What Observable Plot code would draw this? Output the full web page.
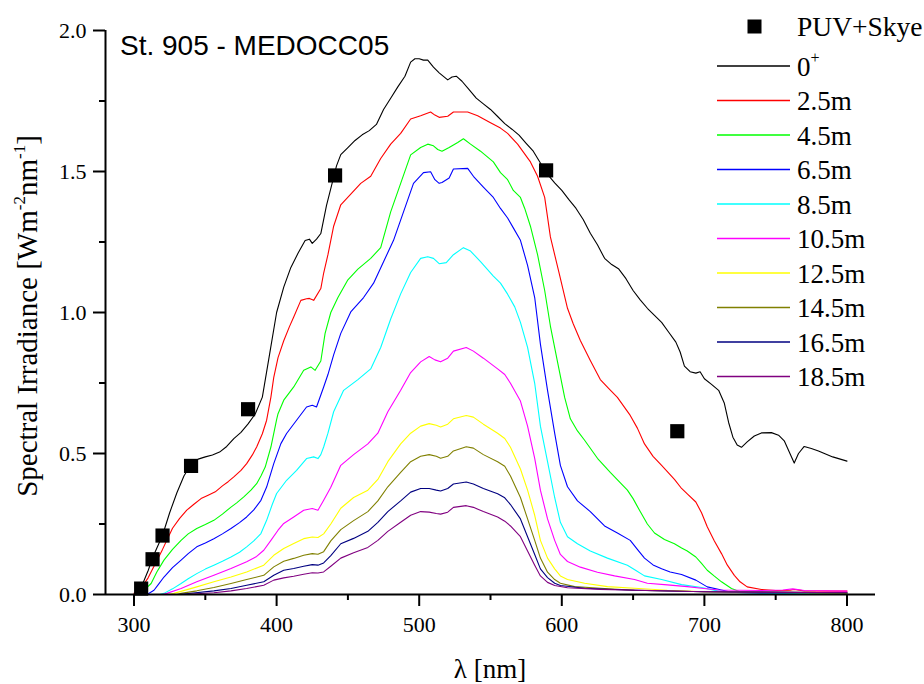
<!DOCTYPE html>
<html><head><meta charset="utf-8">
<script src="https://cdn.jsdelivr.net/npm/d3@7"></script>
<script src="https://cdn.jsdelivr.net/npm/@observablehq/plot@0.6"></script>
<style>
body{margin:0;background:#fff;}
#chart{position:relative;width:924px;height:684px;}
</style>
</head><body><div id="chart"></div>
<script>
// ---------- data ----------
const depths = ["0+","2.5m","4.5m","6.5m","8.5m","10.5m","12.5m","14.5m","16.5m","18.5m"];
const colors = ["#000000","#ff0000","#00ff00","#0000ff","#00ffff","#ff00ff","#ffff00","#808000","#000080","#800080"];

const s_0 = [[300,0.0],[301,0.01],[305,0.025],[310,0.086],[313,0.13],[320,0.21],[325,0.29],[330,0.36],[335,0.42],[340,0.462],[345,0.48],[350,0.488],[355,0.495],[360,0.505],[365,0.525],[370,0.553],[375,0.575],[380,0.605],[385,0.64],[390,0.70],[395,0.85],[400,1.0],[405,1.09],[410,1.16],[415,1.21],[420,1.255],[423,1.26],[425,1.245],[428,1.26],[431,1.28],[435,1.38],[439,1.46],[442,1.52],[445,1.56],[450,1.585],[455,1.61],[460,1.63],[465,1.645],[470,1.667],[475,1.72],[480,1.76],[485,1.80],[490,1.838],[494,1.888],[497,1.90],[500,1.90],[503,1.895],[506,1.895],[510,1.87],[514,1.85],[520,1.825],[523,1.835],[526,1.838],[530,1.82],[535,1.79],[540,1.76],[545,1.74],[550,1.72],[555,1.695],[560,1.67],[565,1.65],[570,1.629],[575,1.60],[580,1.572],[585,1.53],[590,1.49],[595,1.46],[600,1.433],[605,1.40],[610,1.369],[615,1.33],[620,1.281],[625,1.24],[630,1.192],[635,1.17],[640,1.154],[645,1.12],[650,1.078],[655,1.045],[660,1.015],[665,0.99],[670,0.965],[675,0.93],[680,0.895],[683,0.86],[686,0.81],[690,0.79],[694,0.785],[697,0.79],[700,0.765],[705,0.745],[710,0.724],[714,0.678],[717,0.61],[720,0.558],[723,0.53],[726,0.522],[730,0.541],[735,0.562],[740,0.573],[747,0.574],[752,0.565],[756,0.545],[760,0.50],[763,0.466],[766,0.50],[770,0.525],[775,0.518],[780,0.509],[790,0.488],[800,0.473]];
const s_25 = [[300,0.005],[303,0.015],[306,0.03],[310,0.06],[315,0.11],[320,0.16],[323,0.192],[327,0.235],[332,0.27],[337,0.299],[342,0.32],[347,0.34],[352,0.352],[357,0.364],[362,0.385],[366,0.40],[370,0.417],[375,0.44],[379,0.464],[383,0.495],[386,0.523],[390,0.57],[393,0.618],[396,0.70],[398,0.77],[401,0.84],[405,0.90],[409,0.95],[412,0.984],[417,1.043],[421,1.049],[423,1.05],[426,1.043],[431,1.085],[433,1.14],[436,1.205],[440,1.306],[445,1.382],[452,1.42],[459,1.458],[466,1.483],[473,1.546],[480,1.597],[487,1.635],[494,1.686],[501,1.698],[508,1.711],[511,1.70],[514,1.692],[520,1.696],[524,1.711],[534,1.711],[541,1.698],[550,1.673],[557,1.654],[562,1.635],[569,1.597],[578,1.534],[583,1.483],[588,1.408],[592,1.268],[598,1.142],[604,1.015],[608,0.96],[613,0.901],[620,0.83],[627,0.762],[633,0.73],[639,0.699],[648,0.635],[653,0.59],[658,0.534],[664,0.49],[670,0.458],[679,0.408],[684,0.376],[688,0.357],[694,0.328],[698,0.29],[702,0.24],[707,0.19],[712,0.145],[716,0.105],[721,0.068],[725,0.045],[730,0.027],[740,0.018],[750,0.014],[760,0.015],[763,0.018],[770,0.013],[800,0.012]];
const s_45 = [[303,0.005],[307,0.015],[312,0.039],[316,0.08],[321,0.122],[327,0.16],[333,0.192],[338,0.215],[344,0.234],[350,0.248],[356,0.263],[362,0.285],[368,0.31],[372,0.325],[377,0.346],[382,0.37],[386,0.393],[389,0.42],[392,0.452],[396,0.523],[400,0.62],[401,0.641],[405,0.689],[412,0.736],[419,0.795],[424,0.807],[427,0.795],[431,0.828],[434,0.926],[438,1.0],[443,1.053],[450,1.116],[457,1.154],[466,1.192],[473,1.23],[480,1.357],[487,1.458],[494,1.559],[501,1.585],[506,1.597],[510,1.591],[513,1.578],[516,1.572],[521,1.585],[527,1.603],[531,1.616],[536,1.597],[543,1.572],[552,1.534],[557,1.496],[562,1.471],[566,1.433],[571,1.408],[574,1.369],[578,1.306],[583,1.205],[588,1.078],[592,0.952],[597,0.825],[602,0.699],[606,0.623],[611,0.58],[616,0.547],[625,0.483],[634,0.433],[646,0.37],[650,0.34],[655,0.294],[660,0.25],[665,0.218],[672,0.195],[679,0.18],[684,0.165],[688,0.154],[694,0.133],[698,0.11],[702,0.086],[707,0.065],[712,0.045],[719,0.021],[725,0.01],[740,0.006],[800,0.005]];
const s_65 = [[310,0.003],[314,0.015],[317,0.035],[321,0.062],[327,0.095],[333,0.122],[338,0.145],[344,0.169],[350,0.183],[356,0.198],[362,0.215],[368,0.234],[374,0.255],[379,0.275],[384,0.30],[389,0.334],[393,0.381],[398,0.464],[403,0.535],[407,0.571],[414,0.618],[421,0.665],[425,0.671],[428,0.665],[433,0.736],[436,0.78],[440,0.85],[445,0.926],[452,1.002],[461,1.053],[468,1.104],[475,1.18],[482,1.256],[489,1.357],[496,1.458],[503,1.496],[508,1.499],[511,1.471],[514,1.458],[516,1.461],[521,1.477],[524,1.509],[534,1.511],[538,1.483],[545,1.445],[552,1.408],[557,1.369],[562,1.335],[566,1.30],[571,1.256],[576,1.167],[581,1.053],[585,0.888],[590,0.724],[595,0.572],[599,0.458],[604,0.382],[611,0.332],[620,0.294],[630,0.243],[639,0.218],[648,0.192],[653,0.16],[658,0.129],[664,0.105],[670,0.091],[676,0.08],[684,0.071],[694,0.051],[702,0.027],[712,0.016],[719,0.008],[740,0.005],[800,0.004]];
const s_85 = [[318,0.0],[321,0.004],[327,0.02],[333,0.039],[338,0.056],[344,0.074],[350,0.09],[356,0.104],[362,0.118],[368,0.133],[374,0.15],[379,0.169],[384,0.19],[389,0.216],[393,0.263],[397,0.32],[400,0.358],[407,0.405],[414,0.44],[421,0.482],[426,0.488],[429,0.482],[431,0.496],[433,0.523],[436,0.572],[440,0.648],[447,0.724],[457,0.762],[466,0.80],[473,0.876],[480,0.977],[487,1.066],[494,1.142],[501,1.192],[506,1.198],[510,1.192],[514,1.173],[519,1.177],[524,1.205],[531,1.23],[536,1.218],[543,1.18],[552,1.129],[557,1.104],[562,1.065],[567,1.02],[571,0.965],[576,0.876],[581,0.749],[585,0.597],[590,0.471],[595,0.344],[599,0.256],[604,0.205],[611,0.18],[620,0.154],[632,0.129],[646,0.104],[652,0.085],[658,0.066],[670,0.053],[684,0.035],[698,0.025],[710,0.012],[725,0.006],[800,0.004]];
const s_105 = [[320,0.0],[323,0.004],[333,0.021],[344,0.045],[356,0.068],[368,0.092],[379,0.116],[386,0.135],[391,0.157],[396,0.192],[401,0.228],[405,0.252],[412,0.275],[419,0.299],[425,0.305],[429,0.299],[433,0.334],[438,0.38],[445,0.458],[454,0.496],[464,0.534],[471,0.572],[478,0.648],[487,0.724],[494,0.787],[501,0.825],[507,0.844],[511,0.832],[515,0.825],[520,0.838],[524,0.863],[533,0.876],[538,0.863],[545,0.838],[555,0.80],[560,0.78],[564,0.749],[571,0.686],[576,0.597],[581,0.483],[585,0.37],[590,0.268],[595,0.192],[599,0.142],[604,0.117],[613,0.097],[625,0.079],[637,0.066],[651,0.053],[660,0.04],[674,0.034],[688,0.028],[698,0.022],[710,0.016],[740,0.014],[755,0.016],[762,0.02],[770,0.014],[800,0.012]];
const s_125 = [[324,0.0],[328,0.004],[344,0.027],[356,0.045],[368,0.062],[379,0.08],[391,0.104],[398,0.139],[405,0.163],[412,0.181],[419,0.198],[425,0.204],[429,0.202],[433,0.215],[438,0.25],[445,0.306],[454,0.344],[464,0.37],[471,0.408],[478,0.471],[487,0.534],[494,0.572],[501,0.597],[507,0.606],[512,0.60],[515,0.594],[520,0.604],[524,0.623],[533,0.635],[538,0.629],[545,0.604],[555,0.572],[560,0.553],[564,0.522],[571,0.445],[576,0.37],[581,0.281],[585,0.192],[590,0.129],[595,0.091],[599,0.066],[604,0.053],[616,0.04],[632,0.028],[651,0.022],[674,0.015],[700,0.01],[800,0.005]];
const s_145 = [[330,0.0],[333,0.004],[344,0.013],[356,0.025],[368,0.039],[379,0.053],[391,0.068],[398,0.098],[405,0.118],[412,0.128],[419,0.139],[425,0.145],[429,0.143],[433,0.152],[438,0.19],[445,0.23],[454,0.262],[464,0.294],[471,0.332],[478,0.382],[487,0.433],[494,0.471],[501,0.49],[507,0.496],[512,0.49],[515,0.483],[520,0.49],[524,0.509],[533,0.524],[538,0.519],[545,0.496],[555,0.471],[560,0.455],[564,0.42],[571,0.344],[576,0.268],[581,0.192],[585,0.129],[590,0.079],[595,0.053],[599,0.04],[609,0.028],[627,0.022],[651,0.015],[700,0.01],[800,0.006]];
const s_165 = [[332,0.0],[335,0.002],[356,0.013],[368,0.021],[379,0.033],[391,0.045],[398,0.068],[405,0.086],[412,0.092],[419,0.10],[425,0.106],[429,0.104],[433,0.112],[438,0.138],[445,0.18],[454,0.199],[464,0.224],[471,0.256],[478,0.294],[487,0.332],[494,0.363],[501,0.376],[507,0.376],[512,0.37],[515,0.367],[520,0.376],[524,0.392],[533,0.399],[538,0.392],[545,0.376],[555,0.357],[560,0.343],[564,0.319],[571,0.268],[576,0.205],[581,0.142],[585,0.091],[590,0.06],[595,0.04],[599,0.032],[616,0.022],[650,0.015],[700,0.01],[800,0.006]];
const s_185 = [[335,0.0],[338,0.001],[356,0.006],[368,0.013],[379,0.021],[391,0.033],[398,0.051],[405,0.059],[412,0.065],[419,0.072],[425,0.077],[429,0.076],[433,0.08],[438,0.10],[445,0.129],[454,0.148],[464,0.167],[471,0.192],[478,0.224],[487,0.256],[494,0.281],[501,0.294],[507,0.292],[512,0.287],[515,0.285],[520,0.292],[524,0.309],[533,0.315],[538,0.309],[545,0.294],[555,0.275],[560,0.26],[564,0.243],[571,0.205],[576,0.154],[581,0.104],[585,0.066],[590,0.043],[595,0.032],[604,0.024],[627,0.018],[700,0.01],[800,0.006]];

const puvWl  = [305, 313, 320, 340, 380, 441, 589, 681];
const puvVal = [0.021, 0.125, 0.209, 0.456, 0.657, 1.486, 1.504, 0.579];
const puvName = "PUV+Skye";

const xTicks = [300, 400, 500, 600, 700, 800];
const xMinor = [350, 450, 550, 650, 750];
const yTicks = [0.0, 0.5, 1.0, 1.5, 2.0];
const yMinor = [0.25, 0.75, 1.25, 1.75];
const xDomain = [280, 820];
const yDomain = [0, 2];
const titleText = "St. 905 - MEDOCC05";

// ---------- build ----------
const series = [s_0, s_25, s_45, s_65, s_85, s_105, s_125, s_145, s_165, s_185];
const rows = series.flatMap((pts, i) => pts.map(([w, v]) => ({w, v, depth: depths[i]})));
const puv = puvWl.map((w, i) => ({w, v: puvVal[i]}));

const serif = "'Liberation Serif','Times New Roman',serif";
const W = 924, H = 684, mL = 105, mR = 49, mT = 30, mB = 90;

const chart = Plot.plot({
  width: W, height: H,
  marginLeft: mL, marginRight: mR, marginTop: mT, marginBottom: mB,
  style: {fontFamily: serif, fontSize: "22px", background: "#fff", color: "#000"},
  x: {domain: xDomain},
  y: {domain: yDomain},
  color: {domain: depths, range: colors},
  marks: [
    Plot.line(rows, {x: "w", y: "v", z: "depth", stroke: "depth", strokeWidth: 1.1, curve: "linear"}),
    Plot.dot(puv, {x: "w", y: "v", symbol: "square", r: 8, fill: "#000", stroke: null}),
    Plot.ruleY([yDomain[0]], {stroke: "#000", strokeWidth: 2}),
    Plot.ruleX([xDomain[0]], {stroke: "#000", strokeWidth: 2}),
    Plot.axisX({ticks: xTicks, tickSize: 12, tickPadding: 10, strokeWidth: 2, tickFormat: d => String(d), fontSize: 22, label: null}),
    Plot.axisX({ticks: xMinor, tickSize: 6, strokeWidth: 2, text: null, label: null}),
    Plot.axisY({ticks: yTicks, tickSize: 12, tickPadding: 7, strokeWidth: 2, tickFormat: d3.format(".1f"), fontSize: 22, label: null}),
    Plot.axisY({ticks: yMinor, tickSize: 6, strokeWidth: 2, text: null, label: null})
  ]
});
document.getElementById("chart").appendChild(chart);

// ---------- labels, title, legend ----------
const svg = d3.select(chart);
const cx = (mL + (W - mR)) / 2;
svg.append("text").attr("x", cx).attr("y", 678).attr("text-anchor", "middle")
  .attr("font-family", serif).attr("font-size", 27).attr("fill", "#000").text("λ [nm]");

const yl = svg.append("text").attr("transform", `translate(37,316) rotate(-90)`)
  .attr("text-anchor", "middle").attr("font-family", serif).attr("font-size", 29).attr("fill", "#000");
yl.append("tspan").text("Spectral Irradiance [Wm");
yl.append("tspan").attr("font-size", 17).attr("dy", -12).text("-2");
yl.append("tspan").attr("dy", 12).text("nm");
yl.append("tspan").attr("font-size", 17).attr("dy", -12).text("-1");
yl.append("tspan").attr("dy", 12).text("]");

svg.append("text").attr("x", 120).attr("y", 55).attr("text-anchor", "start")
  .attr("font-family", "'Liberation Sans',Arial,sans-serif").attr("font-size", 28).attr("fill", "#000").text(titleText);

// legend
const lg = svg.append("g").attr("text-anchor", "start");
lg.append("rect").attr("x", 747.5).attr("y", 19.5).attr("width", 14).attr("height", 14).attr("fill", "#000");
lg.append("text").attr("x", 797).attr("y", 36).attr("text-anchor", "start").attr("font-family", serif).attr("font-size", 27.5).attr("fill", "#000").text(puvName);
depths.forEach((d, i) => {
  const y = 66 + i * 34.5;
  lg.append("line").attr("x1", 717).attr("x2", 790).attr("y1", y).attr("y2", y)
    .attr("stroke", colors[i]).attr("stroke-width", 1.3);
  const t = lg.append("text").attr("x", 797).attr("y", y + 9.5).attr("text-anchor", "start").attr("font-family", serif)
    .attr("font-size", 27).attr("fill", "#000");
  if (d === "0+") {
    t.append("tspan").text("0");
    t.append("tspan").attr("font-size", 16).attr("dy", -13).text("+");
  } else {
    t.text(d);
  }
});
</script>
</body></html>
